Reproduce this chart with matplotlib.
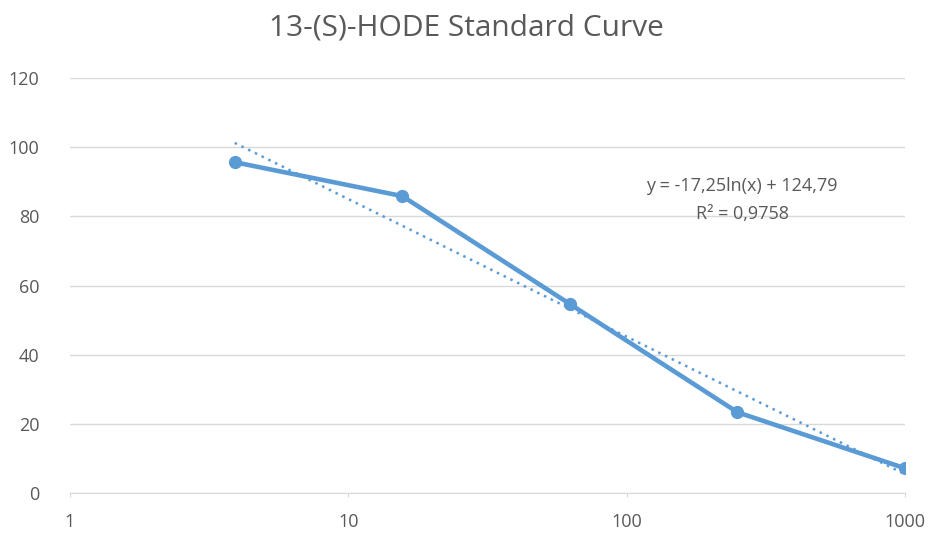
import numpy as np
import matplotlib.pyplot as plt

# standard concentrations and measured response
conc = [3.90625, 15.625, 62.5, 250, 1000]
response = [95.7, 85.9, 54.7, 23.4, 7.2]

eq_label = "y = -17,25ln(x) + 124,79"
r2_label = "R² = 0,9758"
title = "13-(S)-HODE Standard Curve"

blue = "#5B9BD5"
grey_text = "#595959"
grid_col = "#D9D9D9"

plt.rcParams['font.family'] = ['Open Sans', 'DejaVu Sans']

fig = plt.figure(figsize=(9.33, 5.39), dpi=100)
ax = fig.add_axes([0.075, 0.085, 0.895, 0.77])

# log trendline fitted like Excel does
slope, intercept = np.polyfit(np.log(conc), response, 1)
xs = np.geomspace(conc[0], conc[-1], 200)
ax.plot(xs, slope * np.log(xs) + intercept, color=blue, lw=1.8,
        linestyle=(0, (1, 2)), zorder=3)

ax.plot(conc, response, color=blue, lw=3.3, marker='o', markersize=8.5,
        solid_capstyle='round', zorder=4)

ax.set_xscale('log')
ax.set_xlim(1, 1000)
ax.set_ylim(0, 120)
ax.set_yticks(range(0, 121, 20))
ax.set_xticks([1, 10, 100, 1000])
ax.set_xticklabels(['1', '10', '100', '1000'])
ax.minorticks_off()

ax.grid(axis='y', color=grid_col, lw=1)
ax.set_axisbelow(True)
for s in ['top', 'right', 'left']:
    ax.spines[s].set_visible(False)
ax.spines['bottom'].set_color(grid_col)
ax.tick_params(axis='y', length=0, pad=22, labelsize=13, labelcolor=grey_text)
ax.tick_params(axis='x', length=3, color=grid_col, pad=11, labelsize=13,
               labelcolor=grey_text)

ax.text(0.805, 0.74, eq_label, transform=ax.transAxes, ha='center',
        va='center', fontsize=13, color=grey_text)
ax.text(0.805, 0.672, r2_label, transform=ax.transAxes, ha='center',
        va='center', fontsize=13, color=grey_text)

fig.suptitle(title, x=0.5, y=0.975, va='top', fontsize=21.5, color=grey_text)

fig.savefig('out.png', dpi=100)
